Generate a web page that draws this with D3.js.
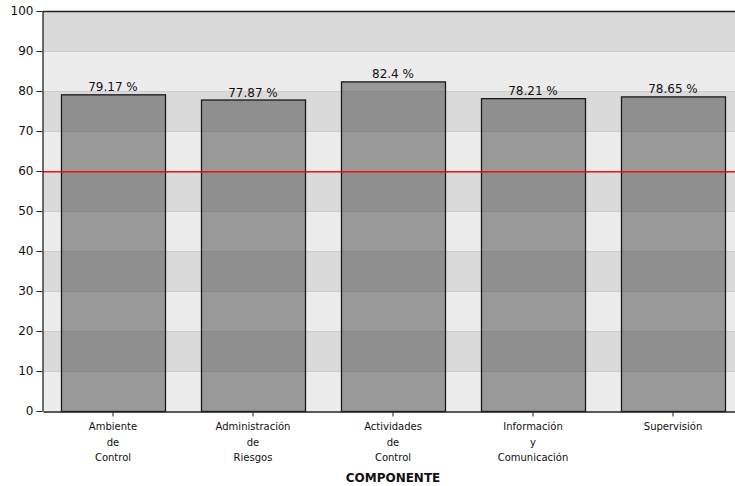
<!DOCTYPE html>
<html>
<head>
<meta charset="utf-8">
<script src="https://cdn.jsdelivr.net/npm/d3@7"></script>
<style>
  body { margin: 0; background: #fff; }
  text { font-family: "DejaVu Sans", sans-serif; }
</style>
</head>
<body>
<svg class="svg" width="735" height="486"></svg>
<script>
const categories = [
  ['Ambiente', 'de', 'Control'],
  ['Administración', 'de', 'Riesgos'],
  ['Actividades', 'de', 'Control'],
  ['Información', 'y', 'Comunicación'],
  ['Supervisión']
]
const values = [79.17, 77.87, 82.4, 78.21, 78.65]
const yTicks = [0, 10, 20, 30, 40, 50, 60, 70, 80, 90, 100]
const targetLine = 60
const axisTitle = 'COMPONENTE'

const margin = { left: 43, top: 11, right: -8, bottom: 75 }
const width = 735
const height = 486

const svg = d3.select('.svg')

const x = d3.scaleBand()
  .domain(d3.range(values.length))
  .range([margin.left, width - margin.right])
  .paddingInner(0.257)
  .paddingOuter(0.1285)

const y = d3.scaleLinear()
  .domain([0, 100])
  .range([height - margin.bottom, margin.top])

// alternating bands
const bands = d3.range(0, 100, 10)
svg.selectAll('.band')
  .data(bands)
  .enter()
  .append('rect')
  .attr('class', 'band')
  .attr('x', margin.left)
  .attr('y', d => y(d + 10))
  .attr('width', width - margin.left)
  .attr('height', d => y(d) - y(d + 10))
  .attr('fill', (d, i) => (i % 2 === 0 ? '#ececec' : '#dadada'))

svg.selectAll('.grid')
  .data(yTicks.slice(1, -1).filter(d => d !== targetLine))
  .enter()
  .append('line')
  .attr('class', 'grid')
  .attr('x1', margin.left)
  .attr('x2', width)
  .attr('y1', d => y(d) + 0.5)
  .attr('y2', d => y(d) + 0.5)
  .attr('stroke', '#cdcdcd')

// bars
svg.selectAll('.bar')
  .data(values)
  .enter()
  .append('rect')
  .attr('class', 'bar')
  .attr('x', (d, i) => x(i) + 0.5)
  .attr('y', d => y(d) + 0.5)
  .attr('width', x.bandwidth())
  .attr('height', d => y(0) - y(d))
  .attr('fill', '#3c3c3c')
  .attr('fill-opacity', 0.47)
  .attr('stroke', '#1a1a1a')
  .attr('stroke-width', 1.3)

// target line
svg.append('rect')
  .attr('class', 'target')
  .attr('x', margin.left)
  .attr('y', y(targetLine))
  .attr('width', width - margin.left)
  .attr('height', 1.6)
  .attr('fill', '#ff0000')
  .attr('fill-opacity', 0.9)

svg.selectAll('.val')
  .data(values)
  .enter()
  .append('text')
  .attr('class', 'val')
  .attr('x', (d, i) => x(i) + x.bandwidth() / 2)
  .attr('y', d => y(d) - 3)
  .attr('text-anchor', 'middle')
  .attr('font-size', 12)
  .attr('fill', '#111')
  .text(d => d + ' %')

// top border
svg.append('line')
  .attr('x1', margin.left)
  .attr('x2', width)
  .attr('y1', margin.top + 0.5)
  .attr('y2', margin.top + 0.5)
  .attr('stroke', '#222')
  .attr('stroke-width', 1.3)

// y axis
const yAxis = svg.append('g')
  .attr('transform', `translate(${margin.left - 0.5},0)`)
  .call(d3.axisLeft(y).tickValues(yTicks).tickSize(6).tickSizeOuter(0).tickPadding(3))
yAxis.select('.domain').attr('stroke', '#222').attr('stroke-width', 1.3)
yAxis.selectAll('.tick line').attr('stroke', '#222')
yAxis.selectAll('.tick text')
  .attr('font-size', 12)
  .attr('fill', '#111')
  .style('font-family', '"DejaVu Sans", sans-serif')

// x axis
const xAxis = svg.append('g')
  .attr('transform', `translate(0,${y(0) + 0.5})`)
  .call(d3.axisBottom(x).tickSize(5).tickSizeOuter(0).tickFormat(''))
xAxis.select('.domain').attr('stroke', '#222').attr('stroke-width', 1.3)
xAxis.selectAll('.tick line').attr('stroke', '#222')

const labels = svg.selectAll('.xlab')
  .data(categories)
  .enter()
  .append('text')
  .attr('class', 'xlab')
  .attr('text-anchor', 'middle')
  .attr('font-size', 10)
  .attr('fill', '#111')

labels.selectAll('tspan')
  .data((d, i) => d.map(t => ({ t, i })))
  .enter()
  .append('tspan')
  .attr('x', d => x(d.i) + x.bandwidth() / 2)
  .attr('y', (d, j) => 430 + j * 15.5)
  .text(d => d.t)

svg.append('text')
  .attr('x', x(2) + x.bandwidth() / 2)
  .attr('y', 482)
  .attr('text-anchor', 'middle')
  .attr('font-size', 12)
  .attr('font-weight', 'bold')
  .attr('fill', '#111')
  .text(axisTitle)
</script>
</body>
</html>
